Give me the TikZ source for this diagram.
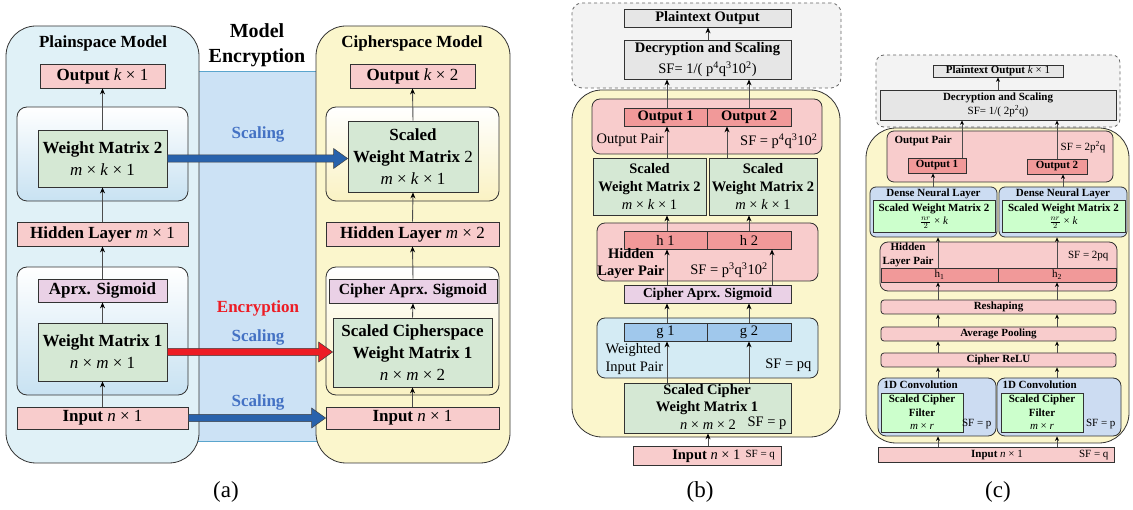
\documentclass[tikz,border=0pt]{standalone}
\usepackage{fontspec}
\setmainfont{Liberation Serif}
\usetikzlibrary{arrows.meta,calc}
\definecolor{plainbg}{RGB}{224,241,247}
\definecolor{encbg}{RGB}{204,226,245}
\definecolor{encline}{RGB}{90,165,205}
\definecolor{ciphbg}{RGB}{251,246,204}
\definecolor{pinkb}{RGB}{248,204,204}
\definecolor{greenb}{RGB}{213,232,212}
\definecolor{sigb}{RGB}{234,209,230}
\definecolor{darkpink}{RGB}{241,153,153}
\definecolor{gbar}{RGB}{160,200,236}
\definecolor{lblue}{RGB}{212,235,244}
\definecolor{grayb}{RGB}{230,230,230}
\definecolor{dashbg}{RGB}{243,243,243}
\definecolor{lgreen}{RGB}{204,255,204}
\definecolor{denseb}{RGB}{204,220,242}
\definecolor{scaleblue}{RGB}{68,114,196}
\definecolor{arrblue}{RGB}{40,98,172}
\definecolor{arrred}{RGB}{237,28,36}
\definecolor{plainin}{RGB}{200,226,242}
\definecolor{ciphin}{RGB}{250,242,195}
\definecolor{bordr}{RGB}{50,50,50}
\newcommand\dims[1]{{\normalfont #1}}
\newcommand\B[6]{\node[#1, minimum width={#4-#2}, minimum height={#5-#3}] (#6) at ({(#2+#4)/2},{(#3+#5)/2})}
\newcommand\bigarr[3]{\path (#2) coordinate (bs) (#3 |- bs) coordinate (be);
\filldraw[fill=#1, draw=black!75, line width=0.5pt] ($(bs)+(0,-3.6)$) -- ($(be)+(-14,-3.6)$) -- ($(be)+(-14,-10)$) -- (be) -- ($(be)+(-14,10)$) -- ($(be)+(-14,3.6)$) -- ($(bs)+(0,3.6)$) -- cycle;}
\begin{document}
\begin{tikzpicture}[x=1pt,y=-1pt,
  bx/.style={draw=bordr, line width=0.8pt, inner sep=0pt, align=center},
  rbx/.style={bx, rounded corners=#1}, rbx/.default=8pt,
  fa/.style={font=\fontsize{17}{22}\selectfont\bfseries},
  fenc/.style={font=\fontsize{20}{25}\selectfont\bfseries},
  fb/.style={font=\fontsize{14.5}{18}\selectfont\bfseries},
  fbn/.style={font=\fontsize{14.5}{18}\selectfont},
  fc/.style={font=\fontsize{11}{13.5}\selectfont\bfseries},
  fcn/.style={font=\fontsize{11}{13.5}\selectfont},
  arr/.style={draw=black!70, line width=0.9pt, -{Stealth[length=6pt,width=5pt,color=black]}},
  arrc/.style={draw=black!70, line width=0.8pt, -{Stealth[length=4.5pt,width=4pt,color=black]}},
  lab/.style={font=\fontsize{23}{26}\selectfont}
]
\useasboundingbox (0,0) rectangle (1133,510);
% ---------------- (a) ----------------
\B{draw=none, fill=encbg}{190}{72}{326}{441}{encreg} {};
\draw[encline, line width=1pt] (encreg.north west) -- (encreg.north east);
\draw[encline, line width=1pt] (encreg.south west) -- (encreg.south east);
\B{rbx=30pt, fill=plainbg}{6}{26}{199}{463}{plain} {};
\B{rbx=30pt, fill=ciphbg}{316}{26}{510}{463}{ciph} {};
\node[fa] (ptitle) at (103,43) {Plainspace Model};
\node[fa] (ctitle) at (412,43) {Cipherspace Model};
\node[fenc, align=center] (mtitle) at (257,45) {Model\\Encryption};
% plain side
\B{bx, fill=pinkb, fa}{40}{64}{165}{88}{pout} {Output \dims{\textit{k} × 1}};
\B{rbx=10pt, top color=white, bottom color=plainin}{17}{107}{188}{201}{pc2} {};
\B{bx, fill=greenb, fa}{38}{130}{167}{187}{wm2} {Weight Matrix 2\\\dims{\textit{m} × \textit{k} × 1}};
\B{bx, fill=pinkb, fa}{17}{222}{188}{246}{phid} {Hidden Layer \dims{\textit{m} × 1}};
\B{rbx=10pt, top color=white, bottom color=plainin}{17}{267}{188}{395}{pc1} {};
\B{bx, fill=sigb, fa}{38}{279}{167}{302}{psig} {Aprx. Sigmoid};
\B{bx, fill=greenb, fa}{38}{323}{167}{381}{wm1} {Weight Matrix 1\\\dims{\textit{n} × \textit{m} × 1}};
\B{bx, fill=pinkb, fa}{17}{407}{188}{429}{pin} {Input \dims{\textit{n} × 1}};
% cipher side
\B{bx, fill=pinkb, fa}{350}{64}{475}{88}{cout} {Output \dims{\textit{k} × 2}};
\B{rbx=10pt, top color=white, bottom color=ciphin}{326}{107}{499}{201}{cc2} {};
\B{bx, fill=greenb, fa}{348}{121}{478}{192}{swm2} {Scaled\\Weight Matrix \dims{2}\\\dims{\textit{m} × \textit{k} × 1}};
\B{bx, fill=pinkb, fa}{326}{222}{499}{246}{chid} {Hidden Layer \dims{\textit{m} × 2}};
\B{rbx=10pt, top color=white, bottom color=ciphin}{326}{267}{499}{395}{cc1} {};
\B{bx, fill=sigb, font=\fontsize{15.5}{18}\selectfont\bfseries}{329}{279}{497}{303}{csig} {Cipher Aprx. Sigmoid};
\B{bx, fill=greenb, fa}{333}{318}{492}{387}{swm1} {Scaled Cipherspace\\Weight Matrix 1\\\dims{\textit{n} × \textit{m} × 2}};
\B{bx, fill=pinkb, fa}{326}{407}{499}{429}{cin} {Input \dims{\textit{n} × 1}};
% arrows
\draw[arr] (pin.north) -- (wm1.south);
\draw[arr] (wm1.north) -- (psig.south);
\draw[arr] (psig.north) -- (phid.south);
\draw[arr] (phid.north) -- (wm2.south);
\draw[arr] (wm2.north) -- (pout.south);
\draw[arr] (cin.north) -- (swm1.south);
\draw[arr] (swm1.north) -- (csig.south);
\draw[arr] (csig.north) -- (chid.south);
\draw[arr] (chid.north) -- (swm2.south);
\draw[arr] (swm2.north) -- (cout.south);
\bigarr{arrblue}{wm2.east}{swm2.west}
\bigarr{arrred}{wm1.east}{swm1.west}
\bigarr{arrblue}{pin.east}{cin.west}
\node[fa, text=scaleblue] (sc1) at (258,134) {Scaling};
\node[fa, text=arrred] (enc) at (258,308) {Encryption};
\node[fa, text=scaleblue] (sc2) at (258,337) {Scaling};
\node[fa, text=scaleblue] (sc3) at (258,402) {Scaling};
% ---------------- (b) ----------------
\B{rbx=10pt, dashed, draw=black!60, fill=dashbg}{572}{3}{841}{88}{bdash} {};
\B{bx, fill=grayb, fb}{624}{9}{791}{27}{bpt} {Plaintext Output};
\B{bx, fill=grayb, fb}{624}{40}{791}{79}{bdec} {Decryption and Scaling\\[3pt]{\mdseries SF= 1/( p\textsuperscript{4}q\textsuperscript{3}10\textsuperscript{2})}};
\B{rbx=30pt, fill=ciphbg}{572}{90}{840}{437}{byel} {};
\B{rbx=8pt, fill=pinkb}{592}{99}{822}{154}{bop} {};
\B{bx, fill=darkpink, fb}{624}{108}{707}{126}{bo1} {Output 1};
\B{bx, fill=darkpink, fb}{707}{108}{791}{126}{bo2} {Output 2};
\node[fbn, anchor=west] (bopl) at (593,140) {Output Pair};
\node[fbn, anchor=east] (bopsf) at (821,141) {SF = p\textsuperscript{4}q\textsuperscript{3}10\textsuperscript{2}};
\B{bx, fill=greenb, fb}{593}{158}{706}{215}{bs1} {Scaled\\Weight Matrix 2\\\dims{\textit{m} × \textit{k} × 1}};
\B{bx, fill=greenb, fb}{709}{158}{817}{215}{bs2} {Scaled\\Weight Matrix 2\\\dims{\textit{m} × \textit{k} × 1}};
\B{rbx=8pt, fill=pinkb}{597}{223}{818}{281}{bhp} {};
\B{bx, fill=darkpink, fbn}{624}{231}{707}{249}{bh1} {h 1};
\B{bx, fill=darkpink, fbn}{707}{231}{791}{249}{bh2} {h 2};
\node[fb, align=center, font=\fontsize{14.5}{17}\selectfont\bfseries] (bhpl) at (631,264) {Hidden\\Layer Pair};
\node[fbn] (bhpsf) at (729,270) {SF = p\textsuperscript{3}q\textsuperscript{3}10\textsuperscript{2}};
\B{bx, fill=sigb, font=\fontsize{13.5}{16}\selectfont\bfseries}{624}{285}{791}{303}{bsig} {Cipher Aprx. Sigmoid};
\B{rbx=8pt, fill=lblue}{597}{318}{818}{378}{bwp} {};
\B{bx, fill=gbar, fbn}{624}{323}{707}{341}{bg1} {g 1};
\B{bx, fill=gbar, fbn}{707}{323}{791}{341}{bg2} {g 2};
\node[fbn, align=left, anchor=west] (bwpl) at (602,359) {Weighted\\Input Pair};
\node[fbn, anchor=east] (bwpsf) at (815,365) {SF = pq};
\B{bx, fill=greenb, fb}{624}{383}{791}{433}{bsc} {};
\node[fb, align=center, font=\fontsize{14.5}{17}\selectfont\bfseries] (bscl) at (707,400) {Scaled Cipher\\Weight Matrix 1};
\node[fbn] (bscd) at (708,425) {\textit{n} × \textit{m} × 2};
\node[fbn, anchor=east] (bscsf) at (790,423) {SF = p};
\B{bx, fill=pinkb}{633}{446}{781}{465}{bin} {};
\node[fb, anchor=east] (binl) at (744,456) {Input \dims{\textit{n} × 1}};
\node[fcn, anchor=west] (binsf) at (742,455) {SF = q};
\coordinate (xa) at (667,0);
\coordinate (xb) at (749,0);
\coordinate (xc) at (727,0);
\coordinate (xd) at (772,0);
\coordinate (xm) at (708,0);
\draw[arr] (bin.north -| xm) -- (bsc.south -| xm);
\draw[arr] (bsc.north -| xa) -- (bg1.south -| xa);
\draw[arr] (bsc.north -| xb) -- (bg2.south -| xb);
\draw[arr] (bg1.north -| xa) -- (bsig.south -| xa);
\draw[arr] (bg2.north -| xb) -- (bsig.south -| xb);
\draw[arr] (bsig.north -| xa) -- (bh1.south -| xa);
\draw[arr] (bsig.north -| xd) -- (bh2.south -| xd);
\draw[arr] (bh1.north -| xa) -- (bs1.south -| xa);
\draw[arr] (bh2.north -| xb) -- (bs2.south -| xb);
\draw[arr] (bs1.north -| xa) -- (bo1.south -| xa);
\draw[arr] (bs2.north -| xc) -- (bo2.south -| xc);
\draw[arr] (bo1.north -| xa) -- (bdec.south -| xa);
\draw[arr] (bo2.north -| xb) -- (bdec.south -| xb);
\draw[arr] (bdec.north -| xm) -- (bpt.south -| xm);
% ---------------- (c) ----------------
\B{rbx=8pt, dashed, draw=black!60, fill=dashbg}{876}{55}{1120}{127}{cdash} {};
\B{bx, fill=grayb, fc}{933}{65}{1063}{77}{cpt} {Plaintext Output \dims{\textit{k} × 1}};
\B{bx, fill=grayb, fc}{880}{90}{1116}{120}{cdec} {Decryption and Scaling\\[1pt]{\mdseries SF= 1/( 2p\textsuperscript{2}q)}};
\B{rbx=30pt, fill=ciphbg}{866}{128}{1129}{443}{cyel} {};
\B{rbx=7pt, fill=pinkb}{887}{131}{1113}{182}{cop} {};
\node[fc, anchor=west] (copl) at (891,141) {Output Pair};
\node[fcn, anchor=east] (copsf) at (1109,147) {SF = 2p\textsuperscript{2}q};
\B{bx, fill=darkpink, fc}{908}{158}{966}{173}{co1} {Output 1};
\B{bx, fill=darkpink, fc}{1027}{159}{1087}{174}{co2} {Output 2};
\B{rbx=6pt, fill=denseb}{870}{187}{997}{237}{cd1} {};
\B{rbx=6pt, fill=denseb}{999}{187}{1127}{237}{cd2} {};
\node[fc] (cd1l) at (933.5,193.5) {Dense Neural Layer};
\node[fc] (cd2l) at (1063,193.5) {Dense Neural Layer};
\B{bx, fill=lgreen, fc}{873}{200}{995}{232}{cw1} {Scaled Weight Matrix 2\\\dims{$\frac{nr}{2}$ × \textit{k}}};
\B{bx, fill=lgreen, fc}{1002}{200}{1125}{232}{cw2} {Scaled Weight Matrix 2\\\dims{$\frac{nr}{2}$ × \textit{k}}};
\B{rbx=8pt, fill=pinkb}{880}{242}{1117}{291}{chp} {};
\node[fc, align=center] (chpl) at (908,255) {Hidden\\Layer Pair};
\node[fcn, anchor=east] (chpsf) at (1112,256) {SF = 2pq};
\B{bx, fill=darkpink, fcn}{881}{268}{998}{282}{ch1} {h\textsubscript{1}};
\B{bx, fill=darkpink, fcn}{998}{268}{1116}{282}{ch2} {h\textsubscript{2}};
\B{rbx=3pt, fill=pinkb, fc}{881}{300}{1116}{314}{cresh} {Reshaping};
\B{rbx=3pt, fill=pinkb, fc}{881}{327}{1116}{341}{cavg} {Average Pooling};
\B{rbx=3pt, fill=pinkb, fc}{881}{353}{1116}{367}{crelu} {Cipher ReLU};
\B{rbx=8pt, fill=denseb}{878}{378}{996}{436}{ccv1} {};
\B{rbx=8pt, fill=denseb}{997}{378}{1121}{436}{ccv2} {};
\node[fc, anchor=west] (ccv1l) at (880,385) {1D Convolution};
\node[fc, anchor=west] (ccv2l) at (999,385) {1D Convolution};
\B{bx, fill=lgreen, fc}{881}{393}{963}{432}{cf1} {Scaled Cipher\\Filter\\\dims{\textit{m} × \textit{r}}};
\B{bx, fill=lgreen, fc}{1001}{393}{1083}{432}{cf2} {Scaled Cipher\\Filter\\\dims{\textit{m} × \textit{r}}};
\node[fcn, anchor=east] (cf1sf) at (995,424) {SF = p};
\node[fcn, anchor=east] (cf2sf) at (1119,424) {SF = p};
\B{bx, fill=pinkb}{878}{447}{1114}{462}{cin2} {};
\node[fc] (cinl) at (997,455) {Input \dims{\textit{n} × 1}};
\node[fcn, anchor=east] (cinsf) at (1112,455) {SF = q};
\coordinate (cx1) at (938,0);
\coordinate (cx2) at (1057,0);
\coordinate (cx3) at (933,0);
\coordinate (cx4) at (1063,0);
\coordinate (cx5) at (962,0);
\coordinate (cx6) at (998,0);
\draw[arrc] (cin2.north -| cx1) -- (ccv1.south -| cx1);
\draw[arrc] (cin2.north -| cx2) -- (ccv2.south -| cx2);
\draw[arrc] (ccv1.north -| cx1) -- (crelu.south -| cx1);
\draw[arrc] (ccv2.north -| cx2) -- (crelu.south -| cx2);
\draw[arrc] (crelu.north -| cx1) -- (cavg.south -| cx1);
\draw[arrc] (crelu.north -| cx2) -- (cavg.south -| cx2);
\draw[arrc] (cavg.north -| cx1) -- (cresh.south -| cx1);
\draw[arrc] (cavg.north -| cx2) -- (cresh.south -| cx2);
\draw[arrc] (cresh.north -| cx1) -- (ch1.south -| cx1);
\draw[arrc] (cresh.north -| cx2) -- (ch2.south -| cx2);
\draw[arrc] (ch1.north -| cx1) -- (cd1.south -| cx1);
\draw[arrc] (ch2.north -| cx2) -- (cd2.south -| cx2);
\draw[arrc] (cd1.north -| cx3) -- (co1.south -| cx3);
\draw[arrc] (cd2.north -| cx4) -- (co2.south -| cx4);
\draw[arrc] (co1.north -| cx5) -- (cdec.south -| cx5);
\draw[arrc] (co2.north -| cx2) -- (cdec.south -| cx2);
\draw[arrc] (cdec.north -| cx6) -- (cpt.south -| cx6);
% labels
\node[lab] (la) at (226,492) {(a)};
\node[lab] (lb) at (700,492) {(b)};
\node[lab] (lc) at (998,492) {(c)};
\end{tikzpicture}
\end{document}
